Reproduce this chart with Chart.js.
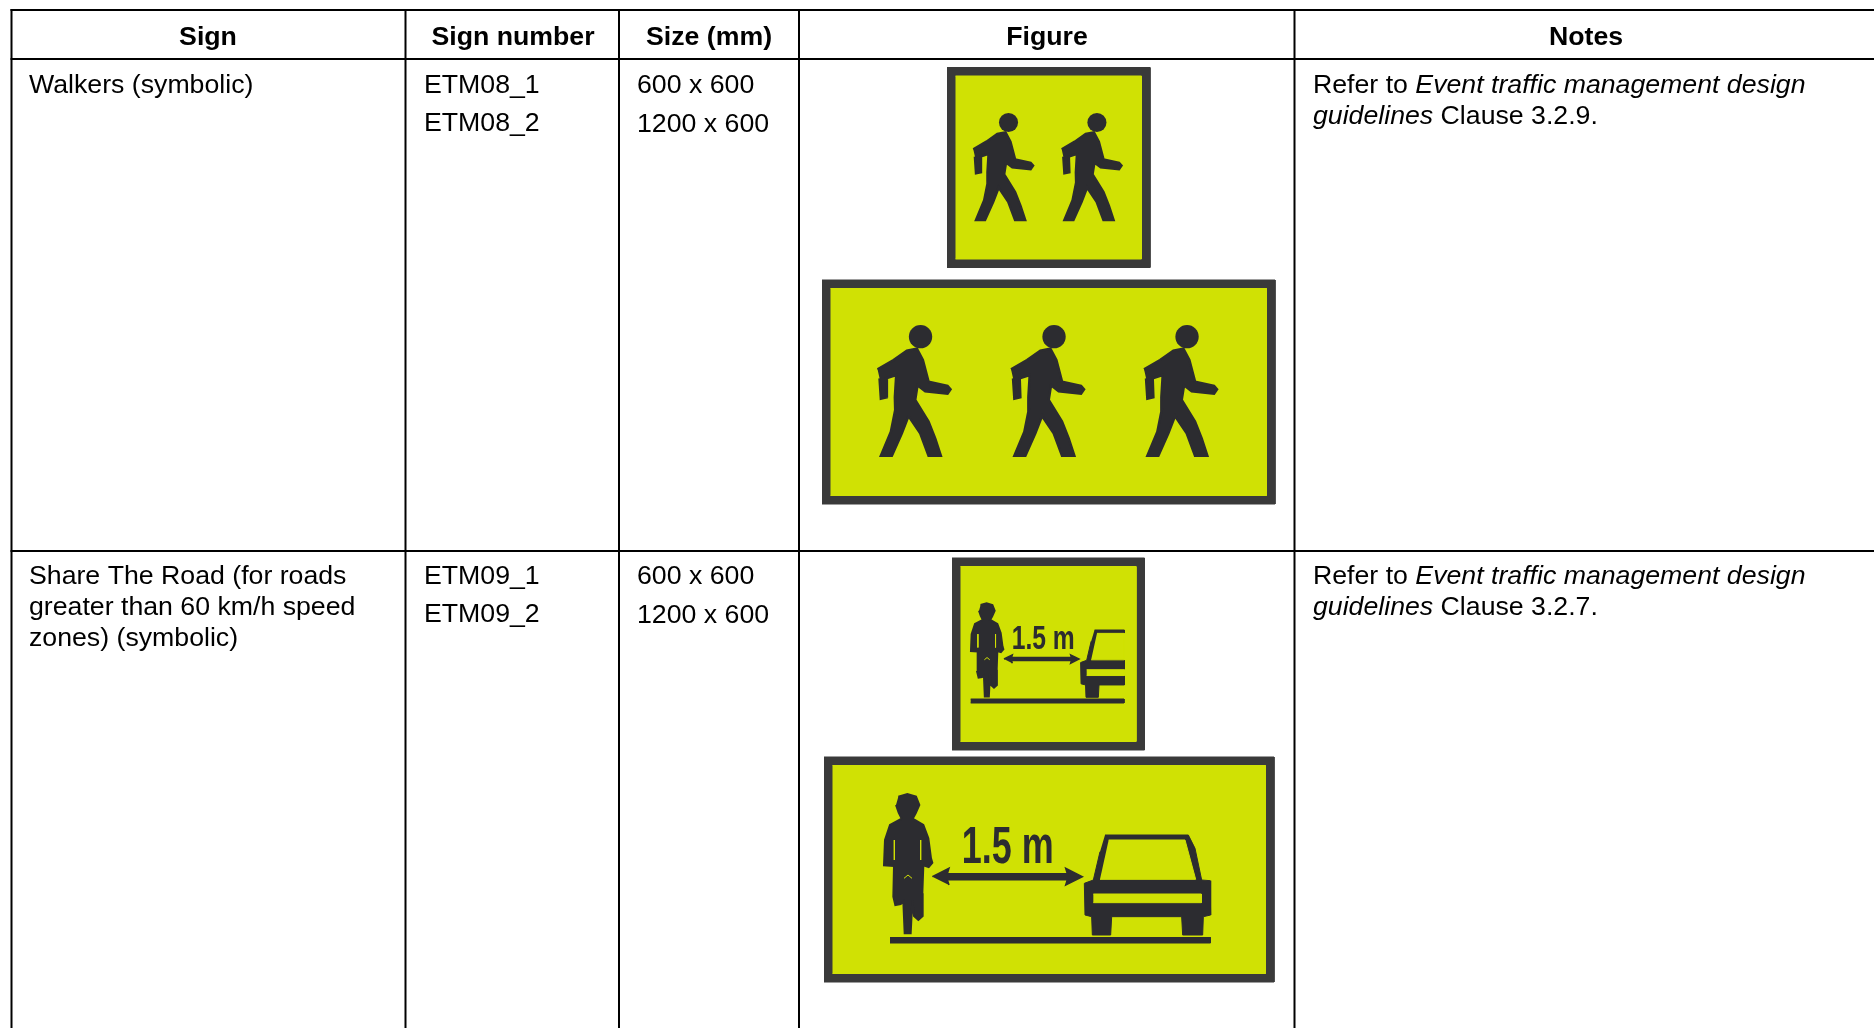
<!DOCTYPE html>
<html>
<head>
<meta charset="utf-8">
<title>Signs</title>
<script src="https://cdn.jsdelivr.net/npm/chart.js@4/dist/chart.umd.min.js"></script>
<style>
  html, body { margin: 0; padding: 0; background: #fff; }
  canvas { display: block; }
</style>
</head>
<body>
<canvas id="signTable" width="1874" height="1028"></canvas>
<script>
// Table content
const headers = ['Sign', 'Sign number', 'Size (mm)', 'Figure', 'Notes'];
const signNames = [
    ['Walkers (symbolic)'],
    ['Share The Road (for roads', 'greater than 60 km/h speed', 'zones) (symbolic)']
];
const signNumbers = [['ETM08_1', 'ETM08_2'], ['ETM09_1', 'ETM09_2']];
const signSizes = [['600 x 600', '1200 x 600'], ['600 x 600', '1200 x 600']];
const clauses = ['3.2.9', '3.2.7'];
const signText = '1.5 m';

// Table layout, in page pixels
const columnEdges = [11.5, 405.5, 619, 799, 1294.5];
const rowEdges = [10, 59, 551];
const headerCentres = [208, 513, 709, 1047, 1586];
const textColumns = [29, 424, 637, 1313];
const firstBaselines = [93, 584];
const nameLeading = 31;
const listLeading = [38, 38.5];

// Pictograms, traced from the signs
const walkerBody = [[52,178],[100,150],[140,122],[170,116],[188,150],[205,215],[262,228],[271,238],[262,251],[195,244],[172,226],
    [165,270],[205,335],[225,385],[242,437],[205,437],[180,370],[145,318],[125,370],[95,437],[62,437],[92,365],[105,300],[104,262],[108,195],[78,205],[80,262],[62,266],[58,205]];
const walkerHead = [181, 80, 35];
const cyclistBody = [[85,50],[112,42],[138,50],[148,75],[137,100],[128,116],[160,135],[175,175],[183,235],[187,248],[176,261],[160,256],[157,340],[158,408],[145,420],[132,408],[127,360],
    [122,460],[104,460],[100,365],[92,372],[76,375],[70,350],[72,258],[42,256],[45,180],[60,135],[95,116],[86,98],[78,75]];
const cyclistGaps = [[[73,180],[73,240]], [[152,180],[152,240]], [[102,295],[114,285],[126,295]]];
const arrow = [[187,290],[237,265],[232,281],[592,281],[587,265],[637,290],[587,315],[592,299],[232,299],[237,315]];
const carBody = [[705,165],[955,165],[975,205],[995,300],[1020,302],[1022,405],[1000,410],[998,465],[938,465],[935,410],[725,410],[722,465],[667,465],[665,410],[645,405],[643,310],[670,300],[690,215]];
const carWindow = [[716,180],[945,180],[977,298],[690,298]];
const carStripe = [[670,342],[994,342],[994,368],[670,368]];
const carHalf = [[705,165],[838,165],[838,410],[725,410],[722,465],[667,465],[665,410],[645,405],[643,310],[670,300],[690,215]];
const carHalfWindow = [[716,180],[838,180],[838,298],[690,298]];
const carHalfStripe = [[670,342],[838,342],[838,368],[670,368]];

const ink = '#2c2c30';
const frame = '#3a3a3a';
const lime = '#d0e104';

const datasets = [];

function addShape(points, color, stroke) {
    datasets.push({
        data: points.map(p => ({x: p[0], y: p[1]})),
        showLine: true,
        fill: 'shape',
        backgroundColor: color,
        borderColor: color,
        borderWidth: stroke || 1,
        pointRadius: 0,
        order: -datasets.length
    });
}

function addLine(points, color, width) {
    datasets.push({
        data: points.map(p => ({x: p[0], y: p[1]})),
        showLine: true,
        fill: false,
        borderColor: color,
        borderWidth: width,
        pointRadius: 0,
        order: -datasets.length
    });
}

function addDot(x, y, r, color) {
    datasets.push({
        data: [{x: x, y: y}],
        pointRadius: r,
        pointBackgroundColor: color,
        pointBorderWidth: 0,
        order: -datasets.length
    });
}

function place(shape, ox, oy, s) {
    return shape.map(p => [ox + p[0] * s, oy + p[1] * s]);
}

function box(x0, y0, x1, y1) {
    return [[x0, y0], [x1, y0], [x1, y1], [x0, y1]];
}

function addSign(x0, y0, x1, y1) {
    addShape(box(x0, y0, x1, y1), frame);
    addShape(box(x0 + 8.5, y0 + 8.5, x1 - 8.5, y1 - 8.5), lime);
}

function addWalker(ox, oy, s) {
    addShape(place(walkerBody, ox, oy, s), ink, 2.5);
    addDot(ox + walkerHead[0] * s, oy + walkerHead[1] * s, walkerHead[2] * s, ink);
}

function addCyclist(ox, oy, s) {
    addShape(place(cyclistBody, ox, oy, s), ink, 2);
    cyclistGaps.forEach(g => addLine(place(g, ox, oy, s), lime, 1));
}

// Grid
rowEdges.forEach(y => addLine([[10.5, y], [1874, y]], '#000', 2));
columnEdges.forEach(x => addLine([[x, 9], [x, 1028]], '#000', 2));

// Walkers signs
addSign(947, 67.5, 1150, 267.5);
addWalker(959.1, 100.7, 0.273);
addWalker(1047.5, 100.7, 0.273);
addSign(822, 280, 1275, 504);
addWalker(860.2, 310, 1 / 3);
addWalker(993.7, 310, 1 / 3);
addWalker(1126.7, 310, 1 / 3);

// Share The Road signs
addSign(952, 558, 1144.5, 750);
addCyclist(961.6, 593.9, 0.2233);
addShape(place(arrow, 972.8, 610.7, 0.1667), ink, 1.5);
addShape(place(carHalf, 936.4, 593, 0.2243), ink);
addShape(place(carHalfWindow, 936.4, 593, 0.2243), lime);
addShape(place(carHalfStripe, 936.4, 593, 0.2243), lime);
addShape(box(970.7, 699, 1124, 703), ink);

addSign(824, 757, 1274, 982);
addCyclist(870, 780, 1 / 3);
addShape(place(arrow, 870, 780, 1 / 3), ink, 1.5);
addShape(place(carBody, 870, 780, 1 / 3), ink);
addShape(place(carWindow, 870, 780, 1 / 3), lime);
addShape(place(carStripe, 870, 780, 1 / 3), lime);
addShape(box(890, 937.5, 1210.5, 943), ink);

// Text goes on top of the marks, placed through the same scales
const bodyFont = '26.7px "Liberation Sans"';
const boldFont = 'bold 26.7px "Liberation Sans"';
const italicFont = 'italic 26.7px "Liberation Sans"';

const tableText = {
    id: 'tableText',
    afterDatasetsDraw(chart) {
        const ctx = chart.ctx;
        const px = chart.scales.x;
        const py = chart.scales.y;

        function put(text, x, y, font, align, color, maxWidth) {
            ctx.font = font;
            ctx.textAlign = align || 'left';
            ctx.textBaseline = 'alphabetic';
            ctx.fillStyle = color || '#000';
            if (maxWidth) ctx.fillText(text, px.getPixelForValue(x), py.getPixelForValue(y), maxWidth);
            else ctx.fillText(text, px.getPixelForValue(x), py.getPixelForValue(y));
            return ctx.measureText(text).width;
        }

        ctx.save();
        headers.forEach((h, i) => put(h, headerCentres[i], 44.5, boldFont, 'center'));

        firstBaselines.forEach((base, r) => {
            signNames[r].forEach((t, i) => put(t, textColumns[0], base + i * nameLeading, bodyFont));
            signNumbers[r].forEach((t, i) => put(t, textColumns[1], base + i * listLeading[0], bodyFont));
            signSizes[r].forEach((t, i) => put(t, textColumns[2], base + i * listLeading[1], bodyFont));

            let x = textColumns[3];
            x += put('Refer to ', x, base, bodyFont);
            put('Event traffic management design', x, base, italicFont);
            x = textColumns[3];
            x += put('guidelines', x, base + nameLeading, italicFont);
            put(' Clause ' + clauses[r] + '.', x, base + nameLeading, bodyFont);
        });

        put(signText, 1011.7, 649, 'bold 34px "Liberation Sans"', 'left', ink, 63);
        put(signText, 961.7, 862.7, 'bold 51px "Liberation Sans"', 'left', ink, 92);
        ctx.restore();
    }
};

new Chart(document.getElementById('signTable').getContext('2d'), {
    type: 'scatter',
    data: { datasets: datasets },
    plugins: [tableText],
    options: {
        responsive: false,
        animation: false,
        events: [],
        layout: { padding: 0, autoPadding: false },
        plugins: {
            legend: { display: false },
            tooltip: { enabled: false },
            title: { display: false }
        },
        elements: { line: { tension: 0 } },
        scales: {
            x: { type: 'linear', min: 0, max: 1874, display: false },
            y: { type: 'linear', min: 0, max: 1028, reverse: true, display: false }
        }
    }
});
</script>
</body>
</html>
